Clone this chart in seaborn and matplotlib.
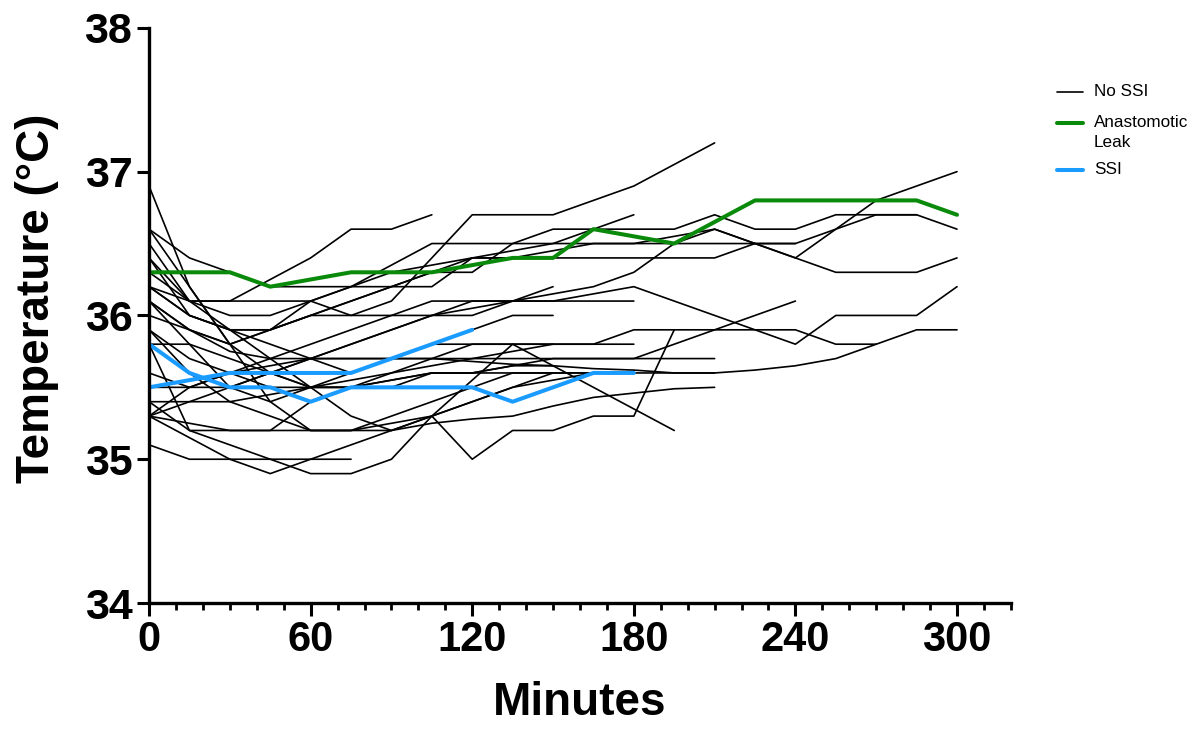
import matplotlib
matplotlib.use("Agg")
import matplotlib.pyplot as plt
from matplotlib.lines import Line2D
from matplotlib.ticker import MultipleLocator
import pandas as pd
import seaborn as sns

# Core temperature (°C) per patient, one reading every 15 minutes from incision
SAMPLE_STEP = 15

no_ssi = [
    [36.2, 36.0, 35.9, 35.9, 36.0, 36.0, 36.1, 36.4, 36.7, 36.7, 36.7, 36.8, 36.9, 37.05, 37.2],
    [36.5, 36.1, 36.1, 36.25, 36.4, 36.6, 36.6, 36.7],
    [36.0, 35.9, 35.8, 35.9, 36.0, 36.1, 36.2, 36.3, 36.3, 36.5, 36.6, 36.6, 36.6, 36.6, 36.7, 36.6, 36.6, 36.7, 36.7, 36.7, 36.6],
    [36.6, 36.4, 36.3, 36.2, 36.2, 36.2, 36.2, 36.2, 36.4, 36.4, 36.4, 36.4, 36.4, 36.4, 36.4, 36.5, 36.5],
    [36.1, 35.9, 35.8, 35.9, 36.1, 36.2, 36.35, 36.5, 36.5, 36.5, 36.5, 36.5, 36.5, 36.5, 36.5, 36.5, 36.5, 36.6, 36.7, 36.7],
    [35.4, 35.4, 35.5, 35.6, 35.7, 35.8, 35.9, 36.0, 36.1, 36.1, 36.15, 36.2, 36.3, 36.5, 36.6, 36.5, 36.4, 36.6, 36.8, 36.9, 37.0],
    [36.3, 36.1, 36.0, 36.0, 36.1, 36.2, 36.3, 36.35, 36.4, 36.4, 36.45, 36.5, 36.5, 36.55, 36.6, 36.5, 36.4, 36.3, 36.3, 36.3, 36.4],
    [36.4, 36.0, 35.9, 35.9, 36.0, 36.1, 36.2, 36.3, 36.4, 36.45, 36.5, 36.6, 36.7],
    [35.6, 35.5, 35.5, 35.6, 35.7, 35.8, 35.9, 36.0, 36.05, 36.1, 36.1, 36.15, 36.2, 36.1, 36.0, 35.9, 35.8, 36.0, 36.0, 36.0, 36.2],
    [35.9, 35.7, 35.6, 35.5, 35.5, 35.5, 35.5, 35.6, 35.6, 35.65, 35.7, 35.7, 35.7, 35.8, 35.9, 36.0, 36.1],
    [36.1, 35.9, 35.75, 35.7, 35.7, 35.7, 35.7, 35.7, 35.7, 35.7, 35.7, 35.7, 35.7, 35.7, 35.7],
    [35.3, 35.5, 35.6, 35.65, 35.7, 35.7, 35.7, 35.7, 35.68, 35.66, 35.65, 35.63, 35.62, 35.6, 35.6, 35.62, 35.65, 35.7, 35.8, 35.9, 35.9],
    [35.8, 35.8, 35.7, 35.6, 35.5, 35.5, 35.55, 35.6, 35.6, 35.6, 35.6, 35.6, 35.6, 35.6, 35.6],
    [35.3, 35.25, 35.2, 35.2, 35.2, 35.2, 35.2, 35.25, 35.28, 35.3, 35.37, 35.43, 35.46, 35.49, 35.5],
    [35.1, 35.0, 35.0, 35.0, 35.0, 35.0],
    [35.3, 35.15, 35.0, 34.9, 35.0, 35.1, 35.2, 35.3, 35.4, 35.5, 35.55, 35.6],
    [35.4, 35.2, 35.1, 35.0, 34.9, 34.9, 35.0, 35.3, 35.55, 35.8, 35.65, 35.5, 35.35, 35.2],
    [35.9, 35.6, 35.4, 35.3, 35.2, 35.2, 35.25, 35.3, 35.0, 35.2, 35.2, 35.3, 35.3, 35.9],
    [36.2, 36.0, 35.9, 35.8, 35.7, 35.6, 35.7, 35.8, 35.8, 35.8, 35.8, 35.8, 35.9, 35.9, 35.9, 35.9, 35.9, 35.8, 35.8],
    [36.9, 36.2, 35.8, 35.6, 35.5, 35.5, 35.55, 35.6, 35.6, 35.65, 35.65],
    [36.6, 36.2, 35.8, 35.4, 35.2, 35.2, 35.3, 35.4, 35.5, 35.6, 35.6],
    [36.4, 36.1, 35.9, 35.7, 35.5, 35.3, 35.2, 35.3, 35.4, 35.5, 35.6, 35.6],
    [35.8, 35.2, 35.2, 35.2, 35.4, 35.5, 35.6, 35.7, 35.8, 35.8, 35.8, 35.8, 35.8],
    [35.5, 35.5, 35.6, 35.7, 35.8, 35.9, 36.0, 36.1, 36.1, 36.1, 36.1, 36.1, 36.1],
    [36.1, 35.8, 35.5, 35.4, 35.5, 35.6, 35.7, 35.8, 35.9, 36.0, 36.0],
    [35.3, 35.4, 35.4, 35.45, 35.5, 35.55, 35.6, 35.65, 35.7, 35.75, 35.8],
    [36.2, 36.1, 36.1, 36.1, 36.1, 36.0, 36.0, 36.0, 36.0, 36.1, 36.2],
]

anastomotic_leak = [
    [36.3, 36.3, 36.3, 36.2, 36.25, 36.3, 36.3, 36.3, 36.35, 36.4, 36.4, 36.6, 36.55, 36.5, 36.65, 36.8, 36.8, 36.8, 36.8, 36.8, 36.7],
]

ssi = [
    [35.8, 35.6, 35.5, 35.5, 35.4, 35.5, 35.5, 35.5, 35.5, 35.4, 35.5, 35.6, 35.6],
    [35.5, 35.55, 35.6, 35.6, 35.6, 35.6, 35.7, 35.8, 35.9],
]

group_names = ["No SSI", "Anastomotic Leak", "SSI"]
legend_labels = ["No SSI", "Anastomotic\nLeak", "SSI"]
group_colors = ["#000000", "#0a8a0a", "#1a9bff"]
group_widths = [1.2, 2.9, 2.9]

rows = []
for name, series_list in zip(group_names, [no_ssi, anastomotic_leak, ssi]):
    for pid, temps in enumerate(series_list):
        for i, temp in enumerate(temps):
            rows.append({"group": name, "patient": pid, "minutes": i * SAMPLE_STEP, "temp": temp})
df = pd.DataFrame(rows)

sns.set_theme(style="ticks")
plt.rcParams["font.family"] = ["Liberation Sans", "DejaVu Sans"]
plt.rcParams.update({"text.color": "black", "axes.labelcolor": "black",
                     "xtick.color": "black", "ytick.color": "black",
                     "axes.edgecolor": "black"})

fig = plt.figure(figsize=(12.02, 7.29), dpi=100)
ax = fig.add_axes([0.124, 0.1728, 0.717, 0.789])

for name, color, lw in zip(group_names, group_colors, group_widths):
    sns.lineplot(data=df[df["group"] == name], x="minutes", y="temp", units="patient",
                 estimator=None, sort=False, color=color, linewidth=lw, ax=ax,
                 legend=False)

ax.set_xlim(0, 320)
ax.set_ylim(34, 38)
ax.set_xticks(range(0, 301, 60))
ax.xaxis.set_minor_locator(MultipleLocator(10))
ax.set_yticks([34, 35, 36, 37, 38])
ax.yaxis.set_minor_locator(plt.NullLocator())

for side in ["top", "right"]:
    ax.spines[side].set_visible(False)
for side in ["left", "bottom"]:
    ax.spines[side].set_linewidth(2.4)

ax.tick_params(axis="both", which="major", length=9, width=2.2, pad=3)
ax.tick_params(axis="x", which="minor", length=5, width=2.0)
ax.tick_params(axis="y", labelsize=31)
ax.tick_params(axis="x", labelsize=30)
for lab in ax.get_xticklabels() + ax.get_yticklabels():
    lab.set_fontweight("bold")

ax.set_xlabel("Minutes", fontsize=33, fontweight="bold", labelpad=15)
ax.set_ylabel("Temperature (°C)", fontsize=33, fontweight="bold")
ax.yaxis.set_label_coords(-0.105, 0.53)

# Legend drawn as keyed entries at the upper right of the figure
W, H = fig.get_size_inches() * fig.dpi
key_x0, key_x1, text_x = 1057, 1083, 1094
entry_y = [92, 123, 170]
for label, color, lw, y in zip(legend_labels, group_colors, group_widths, entry_y):
    fig.add_artist(Line2D([key_x0 / W, key_x1 / W], [1 - y / H, 1 - y / H],
                          color=color, lw=lw, transform=fig.transFigure))
    fig.text(text_x / W, 1 - (y - 8) / H, label, fontsize=12.3, va="top",
             ha="left", linespacing=1.4)

fig.savefig("out.png", dpi=100)
